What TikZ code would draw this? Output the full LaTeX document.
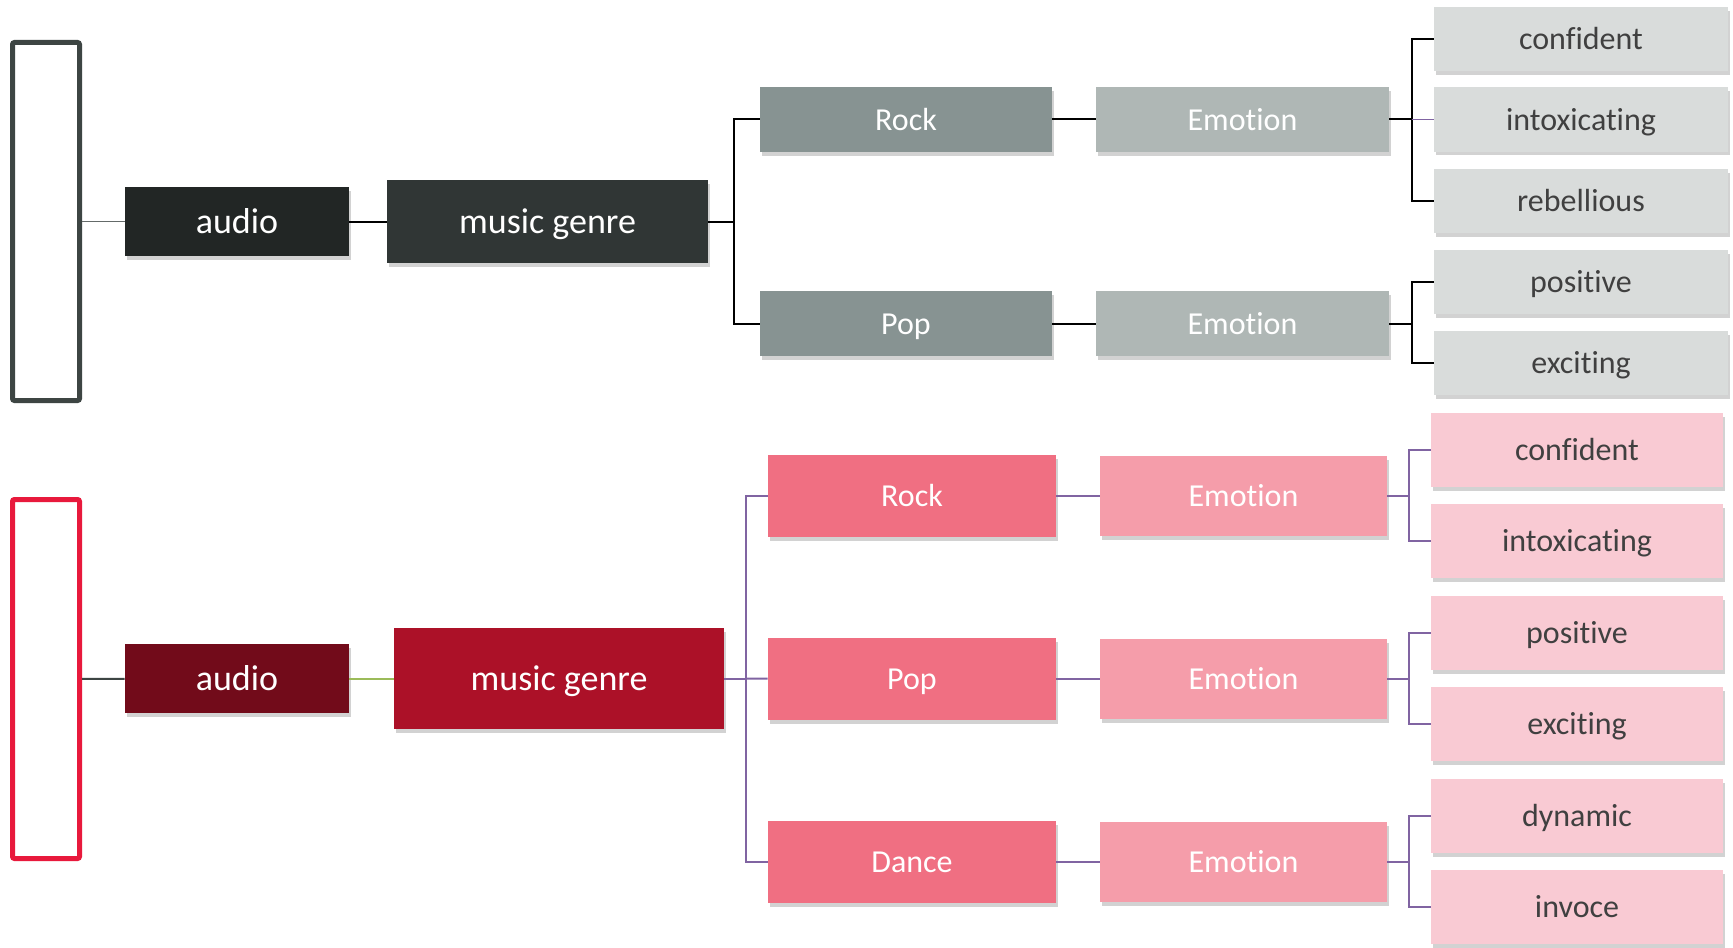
\documentclass[tikz,border=0pt]{standalone}
\usepackage{fontspec}
\setmainfont{Carlito}[Ligatures=NoCommon]
\usetikzlibrary{positioning, shadows}

\definecolor{slate}{HTML}{3D4543}
\definecolor{audiogray}{HTML}{222625}
\definecolor{genregray}{HTML}{303635}
\definecolor{stylegray}{HTML}{879392}
\definecolor{emogray}{HTML}{AFB7B5}
\definecolor{leafgray}{HTML}{D9DCDB}
\definecolor{framered}{HTML}{E8193C}
\definecolor{audiored}{HTML}{720B1A}
\definecolor{genrered}{HTML}{AC1128}
\definecolor{stylered}{HTML}{F06F82}
\definecolor{emored}{HTML}{F59DAA}
\definecolor{leafred}{HTML}{F9CAD3}
\definecolor{linkpurple}{HTML}{8064A2}
\definecolor{linkgreen}{HTML}{9BBB59}
\definecolor{leaftext}{HTML}{404040}

\tikzset{
  frame/.style={draw, line width=2.5pt, rounded corners=1pt, minimum width=33.5pt, minimum height=179pt, inner sep=0pt},
  shade/.style={drop shadow={shadow xshift=0.8pt, shadow yshift=-1.8pt, opacity=0.25, fill=black!70}},
  bigbox/.style={shade, inner sep=0pt, text height=12.2pt, text depth=0pt, text=white, font=\fontsize{18}{20}\selectfont},
  box/.style={shade, inner sep=0pt, text height=10.6pt, text depth=0pt, text=white, font=\fontsize{16}{18}\selectfont},
  leaf/.style={shade, inner sep=0pt, text height=10.8pt, text depth=0pt, text=leaftext, font=\fontsize{16}{18}\selectfont},
  blackline/.style={draw=black, line width=1pt},
  purpleline/.style={draw=linkpurple, line width=1pt}
}

\begin{document}
\begin{tikzpicture}[x=0.5pt, y=-0.5pt]

	\useasboundingbox[fill=white] (0,0) rectangle (1733,947);

	% upper tree
	\node[frame, draw=slate] (fa) at (46,221.5) {};
	\node[bigbox, fill=audiogray, minimum width=112pt, minimum height=34.5pt] (audioa) at (237,221.5) {audio};
	\node[bigbox, fill=genregray, minimum width=160.5pt, minimum height=41.5pt] (genrea) at (547.5,221.5) {music genre};

	\node[box, fill=stylegray, minimum width=146pt, minimum height=32.5pt] (rocka) at (906,119.5) {Rock};
	\node[box, fill=stylegray, minimum width=146pt, minimum height=32.5pt] (popa) at (906,323.5) {Pop};
	\node[box, fill=emogray, minimum width=146.5pt, minimum height=32.5pt] (emoa1) at (1242.5,119.5) {Emotion};
	\node[box, fill=emogray, minimum width=146.5pt, minimum height=32.5pt] (emoa2) at (1242.5,323.5) {Emotion};

	\node[leaf, fill=leafgray, minimum width=147pt, minimum height=32pt] (confa) at (1581,39) {confident};
	\node[leaf, fill=leafgray, minimum width=147pt, minimum height=32pt] (intoxa) at (1581,119.5) {intoxicating};
	\node[leaf, fill=leafgray, minimum width=147pt, minimum height=32pt] (rebela) at (1581,201) {rebellious};
	\node[leaf, fill=leafgray, minimum width=147pt, minimum height=32pt] (posa) at (1581,282) {positive};
	\node[leaf, fill=leafgray, minimum width=147pt, minimum height=32pt] (exca) at (1581,363) {exciting};

	\coordinate (ja) at (734,221.5);
	\coordinate (ka1) at (1412,119.5);
	\coordinate (ka2) at (1412,323.5);

	\draw[draw=slate!80, line width=0.7pt] (fa) -- (audioa);
	\draw[blackline] (audioa) -- (genrea);
	\draw[blackline] (genrea) -- (ja) |- (rocka);
	\draw[blackline] (ja) |- (popa);
	\draw[blackline] (rocka) -- (emoa1);
	\draw[blackline] (popa) -- (emoa2);
	\draw[blackline] (emoa1) -- (ka1) |- (confa);
	\draw[blackline] (ka1) |- (rebela);
	\draw[draw=linkpurple, line width=0.7pt] (ka1) -- (intoxa);
	\draw[blackline] (emoa2) -- (ka2) |- (posa);
	\draw[blackline] (ka2) |- (exca);

	% lower tree
	\node[frame, draw=framered, minimum height=179.5pt] (fb) at (46,679) {};
	\node[bigbox, fill=audiored, minimum width=112pt, minimum height=34.5pt] (audiob) at (237,678.5) {audio};
	\node[bigbox, fill=genrered, minimum width=165pt, minimum height=50.5pt] (genreb) at (559,678.5) {music genre};

	\node[box, fill=stylered, minimum width=144pt, minimum height=41pt] (rockb) at (912,496) {Rock};
	\node[box, fill=stylered, minimum width=144pt, minimum height=41pt] (popb) at (912,679) {Pop};
	\node[box, fill=stylered, minimum width=144pt, minimum height=41pt] (danceb) at (912,862) {Dance};
	\node[box, fill=emored, minimum width=143.5pt, minimum height=40pt] (emob1) at (1243.5,496) {Emotion};
	\node[box, fill=emored, minimum width=143.5pt, minimum height=40pt] (emob2) at (1243.5,679) {Emotion};
	\node[box, fill=emored, minimum width=143.5pt, minimum height=40pt] (emob3) at (1243.5,862) {Emotion};

	\node[leaf, fill=leafred, minimum width=146pt, minimum height=37pt] (confb) at (1577,450) {confident};
	\node[leaf, fill=leafred, minimum width=146pt, minimum height=37pt] (intoxb) at (1577,541) {intoxicating};
	\node[leaf, fill=leafred, minimum width=146pt, minimum height=37pt] (posb) at (1577,633) {positive};
	\node[leaf, fill=leafred, minimum width=146pt, minimum height=37pt] (excb) at (1577,724) {exciting};
	\node[leaf, fill=leafred, minimum width=146pt, minimum height=37pt] (dynb) at (1577,816) {dynamic};
	\node[leaf, fill=leafred, minimum width=146pt, minimum height=37pt] (invb) at (1577,907) {invoce};

	\coordinate (jb) at (746,678.5);
	\coordinate (kb1) at (1409,496);
	\coordinate (kb2) at (1409,679);
	\coordinate (kb3) at (1409,862);

	\draw[draw=slate, line width=1pt] (fb) -- (audiob);
	\draw[draw=linkgreen, line width=1pt] (audiob) -- (genreb);
	\draw[purpleline] (genreb) -- (jb) |- (rockb);
	\draw[purpleline] (jb) |- (danceb);
	\draw[purpleline] (jb) -- (popb);
	\draw[purpleline] (rockb) -- (emob1);
	\draw[purpleline] (popb) -- (emob2);
	\draw[purpleline] (danceb) -- (emob3);
	\draw[purpleline] (emob1) -- (kb1) |- (confb);
	\draw[purpleline] (kb1) |- (intoxb);
	\draw[purpleline] (emob2) -- (kb2) |- (posb);
	\draw[purpleline] (kb2) |- (excb);
	\draw[purpleline] (emob3) -- (kb3) |- (dynb);
	\draw[purpleline] (kb3) |- (invb);

\end{tikzpicture}
\end{document}
